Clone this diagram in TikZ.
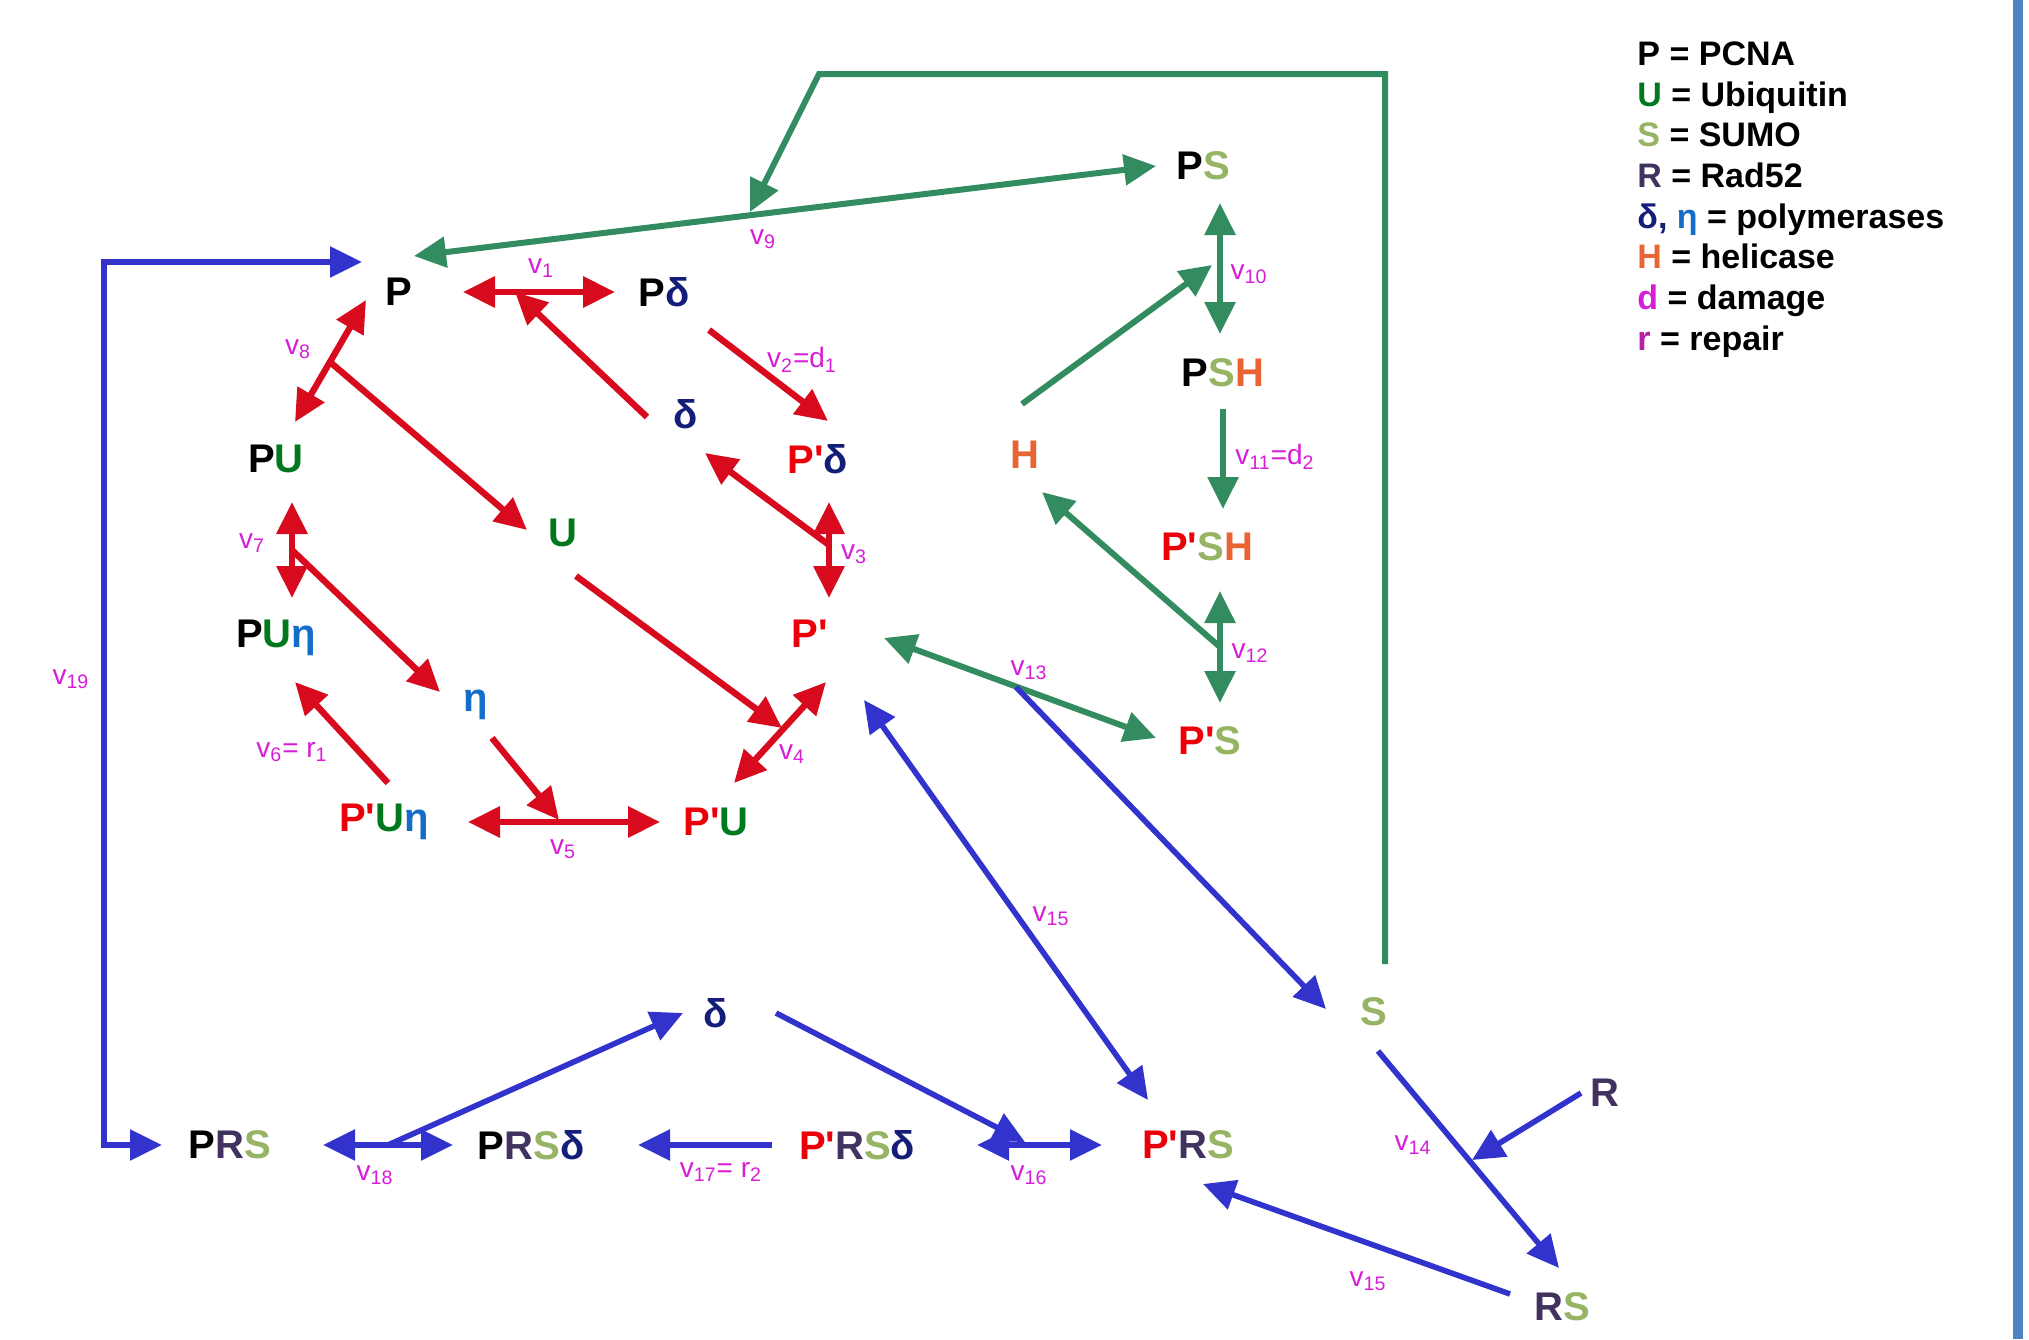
\documentclass[tikz,border=0pt]{standalone}
\usepackage{fontspec}
\setmainfont{Liberation Sans}[Ligatures=TeXOff]
\usetikzlibrary{arrows.meta,calc}
\definecolor{cred}{RGB}{215,10,30}
\definecolor{tred}{RGB}{235,0,10}
\definecolor{cgreen}{RGB}{50,140,95}
\definecolor{cblue}{RGB}{50,50,205}
\definecolor{cnavy}{RGB}{20,30,120}
\definecolor{ceta}{RGB}{20,110,200}
\definecolor{cU}{RGB}{0,120,30}
\definecolor{cS}{RGB}{150,180,100}
\definecolor{cR}{RGB}{65,50,95}
\definecolor{cH}{RGB}{232,100,50}
\definecolor{cmag}{RGB}{215,30,215}
\definecolor{crep}{RGB}{185,30,165}
\definecolor{cbar}{RGB}{80,130,195}
\newcommand\tP{\textcolor{tred}{P'}}
\newcommand\tU{\textcolor{cU}{U}}
\newcommand\tS{\textcolor{cS}{S}}
\newcommand\tR{\textcolor{cR}{R}}
\newcommand\tH{\textcolor{cH}{H}}
\newcommand\td{\textcolor{cnavy}{δ}}
\newcommand\te{\textcolor{ceta}{η}}
\tikzset{
  Tr/.tip={Triangle[length=16pt,width=15pt]},
  sp/.style={font=\fontsize{20}{24}\selectfont\bfseries, inner sep=0pt},
  lab/.style={text=cmag, font=\fontsize{14}{16}\selectfont, inner sep=0pt},
  leg/.style={anchor=base west, font=\fontsize{17}{20}\selectfont\bfseries, inner sep=0pt},
  rone/.style={draw=cred, line width=3.2pt, -Tr},
  rtwo/.style={draw=cred, line width=3.2pt, Tr-Tr},
  gone/.style={draw=cgreen, line width=3pt, -Tr},
  gtwo/.style={draw=cgreen, line width=3pt, Tr-Tr},
  bone/.style={draw=cblue, line width=2.8pt, -Tr},
  btwo/.style={draw=cblue, line width=2.8pt, Tr-Tr},
}
\begin{document}
\begin{tikzpicture}[x=0.5pt,y=-0.5pt]
\fill[white] (0,0) rectangle (2029,1339);
\useasboundingbox (0,0) rectangle (2029,1339);
\fill[cbar] (2013,0) rectangle (2023,1339);

% species
\node[sp] (P) at (399,292) {P};
\node[sp] (Pd) at (664,292) {P\td};
\node[sp] (d1) at (686,414) {\td};
\node[sp] (Ppd) at (818,459) {\tP\td};
\node[sp] (U) at (563,533) {\tU};
\node[sp] (PU) at (276,459) {P\tU};
\node[sp] (PUe) at (276,638) {P\tU\te};
\node[sp] (e) at (476,705) {\te};
\node[sp] (Pp) at (810,634) {\tP};
\node[sp] (PpU) at (716,822) {\tP\tU};
\node[sp] (PpUe) at (384,822) {\tP\tU\te};
\node[sp] (PS) at (1203,166) {P\tS};
\node[sp] (PSH) at (1223,373) {P\tS\tH};
\node[sp] (H) at (1025,455) {\tH};
\node[sp] (PpSH) at (1207,547) {\tP\tS\tH};
\node[sp] (PpS) at (1210,741) {\tP\tS};
\node[sp] (S) at (1374,1012) {\tS};
\node[sp] (R) at (1605,1093) {\tR};
\node[sp] (RS) at (1562,1307) {\tR\tS};
\node[sp] (PpRS) at (1188,1145) {\tP\tR\tS};
\node[sp] (d2) at (716,1013) {\td};
\node[sp] (PpRSd) at (857,1145) {\tP\tR\tS\td};
\node[sp] (PRSd) at (531,1145) {P\tR\tS\td};
\node[sp] (PRS) at (230,1145) {P\tR\tS};

% red connectors
\draw[rtwo] ([shift={(64,0)}]P.center) -- ([shift={(-49,0)}]Pd.center);
\coordinate (m1) at (515,292);
\draw[rone] ([shift={(-39,3)}]d1.center) -- (m1);
\draw[rone] ([shift={(45,38)}]Pd.center) -- ([shift={(10,-38)}]Ppd.center);
\draw[rtwo] ([shift={(11,43)}]Ppd.center) -- ([shift={(19,-36)}]Pp.center);
\coordinate (m3) at (829,545);
\draw[rone] (m3) -- ([shift={(19,39)}]d1.center);
\draw[rtwo] ([shift={(-33,8)}]P.center) -- ([shift={(19,-37)}]PU.center);
\coordinate (m8) at (330,362);
\draw[rone] (m8) -- ([shift={(-36,-3)}]U.center);
\draw[rtwo] ([shift={(16,43)}]PU.center) -- ([shift={(16,-40)}]PUe.center);
\coordinate (m7) at (292,550);
\draw[rone] (m7) -- ([shift={(-36,-13)}]e.center);
\coordinate (m4) at (782,728);
\draw[rone] ([shift={(13,43)}]U.center) -- (m4);
\draw[rtwo] ([shift={(16,48)}]Pp.center) -- ([shift={(18,-39)}]PpU.center);
\draw[rtwo] ([shift={(84,0)}]PpUe.center) -- ([shift={(-56,0)}]PpU.center);
\coordinate (m5) at (559,820);
\draw[rone] ([shift={(16,33)}]e.center) -- (m5);
\draw[rone] ([shift={(4,-39)}]PpUe.center) -- ([shift={(19,44)}]PUe.center);

% green connectors
\draw[gtwo] ([shift={(15,-36)}]P.center) -- ([shift={(-47,0)}]PS.center);
\coordinate (m9) at (750,212);
\coordinate (gk) at (819,74);
\draw[gone, line join=miter] ([shift={(11,-48)}]S.center) |- (gk) -- (m9);
\draw[gtwo] ([shift={(17,37)}]PS.center) -- ([shift={(-3,-39)}]PSH.center);
\coordinate (m10) at (1212,265);
\draw[gone] ([shift={(-3,-51)}]H.center) -- (m10);
\draw[gone] ([shift={(0,36)}]PSH.center) -- ([shift={(16,-38)}]PpSH.center);
\draw[gtwo] ([shift={(13,44)}]PpSH.center) -- ([shift={(10,-38)}]PpS.center);
\coordinate (m12) at (1220,647);
\draw[gone] (m12) -- ([shift={(17,37)}]H.center);
\draw[gtwo] ([shift={(74,4)}]Pp.center) -- ([shift={(-54,-3)}]PpS.center);

% blue connectors
\coordinate (m13) at (1016,687);
\draw[bone] (m13) -- ([shift={(-48,-3)}]S.center);
\draw[btwo] ([shift={(54,66)}]Pp.center) -- ([shift={(-40,-45)}]PpRS.center);
\draw[bone] ([shift={(4,39)}]S.center) -- ([shift={(-3,-39)}]RS.center);
\coordinate (m14) at (1472,1160);
\draw[bone] ([shift={(-24,0)}]R.center) -- (m14);
\draw[bone] ([shift={(-52,-13)}]RS.center) -- ([shift={(15,39)}]PpRS.center);
\coordinate (m16) at (1025,1142);
\draw[bone] ([shift={(60,0)}]d2.center) -- (m16);
\draw[btwo] ([shift={(120,0)}]PpRSd.center) -- ([shift={(-86,0)}]PpRS.center);
\draw[bone] ([shift={(-85,0)}]PpRSd.center) -- ([shift={(107,0)}]PRSd.center);
\draw[btwo] ([shift={(93,0)}]PRS.center) -- ([shift={(-78,0)}]PRSd.center);
\coordinate (m18) at (388,1145);
\draw[bone] (m18) -- ([shift={(-33,0)}]d2.center);
\coordinate (k19) at (104,700);
\draw[btwo, line join=miter] ([shift={(-68,0)}]PRS.center) -| (k19) |- ([shift={(-37,-30)}]P.center);

% rate labels
\node[lab] (l1) at (541,268) {v\textsubscript{1}};
\node[lab] (l2) at (802,360) {v\textsubscript{2}=d\textsubscript{1}};
\node[lab] (l3) at (854,554) {v\textsubscript{3}};
\node[lab] (l4) at (792,754) {v\textsubscript{4}};
\node[lab] (l5) at (563,849) {v\textsubscript{5}};
\node[lab] (l6) at (292,752) {v\textsubscript{6}= r\textsubscript{1}};
\node[lab] (l7) at (252,543) {v\textsubscript{7}};
\node[lab] (l8) at (298,349) {v\textsubscript{8}};
\node[lab] (l9) at (763,239) {v\textsubscript{9}};
\node[lab] (l10) at (1249,274) {v\textsubscript{10}};
\node[lab] (l11) at (1275,457) {v\textsubscript{11}=d\textsubscript{2}};
\node[lab] (l12) at (1250,653) {v\textsubscript{12}};
\node[lab] (l13) at (1029,670) {v\textsubscript{13}};
\node[lab] (l14) at (1413,1145) {v\textsubscript{14}};
\node[lab] (l15) at (1051,916) {v\textsubscript{15}};
\node[lab] (l15b) at (1368,1281) {v\textsubscript{15}};
\node[lab] (l16) at (1029,1175) {v\textsubscript{16}};
\node[lab] (l17) at (721,1172) {v\textsubscript{17}= r\textsubscript{2}};
\node[lab] (l18) at (375,1175) {v\textsubscript{18}};
\node[lab] (l19) at (71,679) {v\textsubscript{19}};

% legend
\node[leg] (g1) at (1637,65) {P = PCNA};
\node[leg] (g2) at (1637,106) {\tU\ = Ubiquitin};
\node[leg] (g3) at (1637,146) {\tS\ = SUMO};
\node[leg] (g4) at (1637,187) {\tR\ = Rad52};
\node[leg] (g5) at (1637,228) {\textcolor{cnavy}{δ,} \te\ = polymerases};
\node[leg] (g6) at (1637,268) {\tH\ = helicase};
\node[leg] (g7) at (1637,309) {\textcolor{cmag}{d} = damage};
\node[leg] (g8) at (1637,350) {\textcolor{crep}{r} = repair};
\end{tikzpicture}
\end{document}
